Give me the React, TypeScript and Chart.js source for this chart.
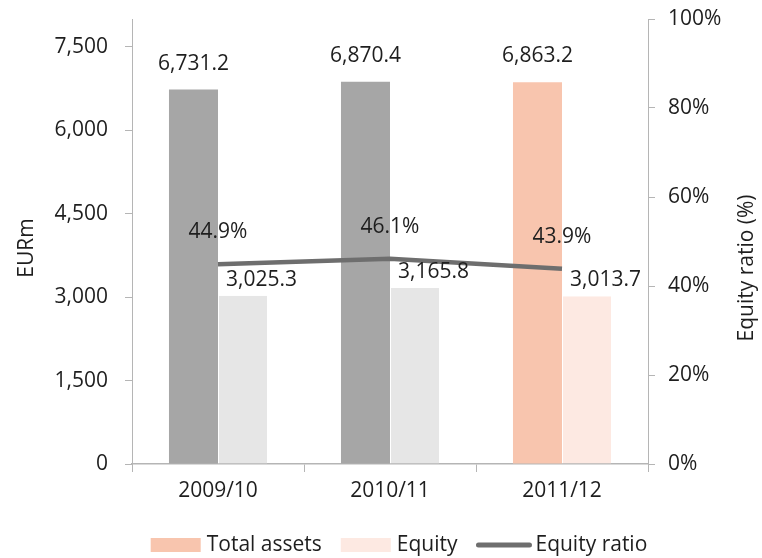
import React, { useEffect, useRef } from "react";
import { Chart, registerables } from "chart.js";

Chart.register(...registerables);

const categories = ["2009/10", "2010/11", "2011/12"];
const totalAssets = [6731.2, 6870.4, 6863.2];
const equity = [3025.3, 3165.8, 3013.7];
const equityRatio = [44.9, 46.1, 43.9];
const leftTicks = [0, 1500, 3000, 4500, 6000, 7500];
const rightTicks = [0, 20, 40, 60, 80, 100];
const seriesNames = ["Total assets", "Equity", "Equity ratio"];
const leftTitle = "EURm";
const rightTitle = "Equity ratio (%)";

const FONT = "'Open Sans', 'Noto Sans', sans-serif";
const FS = 21;
const TXT = "#1e1e1e";
const AX = "#b5b5b5";
const totalColors = ["#a6a6a6", "#a6a6a6", "#f8c5ae"];
const equityColors = ["#e6e6e6", "#e6e6e6", "#fde9e2"];
const LINE = "#6e6e6e";

const fmt1 = (v: number) =>
  v.toLocaleString("en-US", { minimumFractionDigits: 1, maximumFractionDigits: 1 });

const overlayPlugin = {
  id: "overlay",
  afterDatasetsDraw(chart: any) {
    const ctx = chart.ctx;
    ctx.save();
    ctx.font = `${FS}px ${FONT}`;
    ctx.fillStyle = TXT;
    ctx.textAlign = "center";
    ctx.textBaseline = "middle";
    const mTot = chart.getDatasetMeta(0);
    const mEq = chart.getDatasetMeta(1);
    const mLine = chart.getDatasetMeta(2);
    mTot.data.forEach((el: any, i: number) => {
      ctx.fillText(fmt1(totalAssets[i]), el.x, el.y - 26);
    });
    mEq.data.forEach((el: any, i: number) => {
      ctx.fillText(fmt1(equity[i]), el.x + 19, el.y - 16);
    });
    mLine.data.forEach((el: any, i: number) => {
      ctx.fillText(fmt1(equityRatio[i]) + "%", el.x, el.y - 32);
    });
    ctx.restore();
  },
  afterDraw(chart: any) {
    const ctx = chart.ctx;
    ctx.save();
    ctx.font = `${FS}px ${FONT}`;
    ctx.fillStyle = TXT;
    ctx.textAlign = "center";
    ctx.textBaseline = "middle";
    // axis titles
    ctx.save();
    ctx.translate(27, 248);
    ctx.rotate(-Math.PI / 2);
    ctx.fillText(leftTitle, 0, 0);
    ctx.restore();
    ctx.save();
    ctx.translate(747, 268);
    ctx.rotate(-Math.PI / 2);
    ctx.fillText(rightTitle, 0, 0);
    ctx.restore();

    // legend
    const y = 545;
    const boxW = 50;
    const lineW = 55;
    const gap = 6;
    const spacing = 19;
    const w0 = ctx.measureText(seriesNames[0]).width;
    const w1 = ctx.measureText(seriesNames[1]).width;
    const w2 = ctx.measureText(seriesNames[2]).width;
    const total = boxW + gap + w0 + spacing + boxW + gap + w1 + spacing + lineW + 4 + w2;
    let x = 399 - total / 2;
    ctx.textAlign = "left";
    ctx.fillStyle = totalColors[2];
    ctx.fillRect(x, y - 7, boxW, 14);
    x += boxW + gap;
    ctx.fillStyle = TXT;
    ctx.fillText(seriesNames[0], x, y);
    x += w0 + spacing;
    ctx.fillStyle = equityColors[2];
    ctx.fillRect(x, y - 7, boxW, 14);
    x += boxW + gap;
    ctx.fillStyle = TXT;
    ctx.fillText(seriesNames[1], x, y);
    x += w1 + spacing;
    ctx.strokeStyle = LINE;
    ctx.lineWidth = 5;
    ctx.lineCap = "round";
    ctx.beginPath();
    ctx.moveTo(x + 2, y);
    ctx.lineTo(x + lineW - 2, y);
    ctx.stroke();
    x += lineW + 4;
    ctx.fillText(seriesNames[2], x, y);
    ctx.restore();
  },
};

export default function App() {
  const ref = useRef<HTMLCanvasElement | null>(null);
  useEffect(() => {
    if (!ref.current) return;
    const font = { family: FONT, size: FS };
    const chart = new Chart(ref.current, {
      type: "bar",
      data: {
        labels: categories,
        datasets: [
          {
            type: "bar",
            label: seriesNames[0],
            data: totalAssets,
            backgroundColor: totalColors,
            yAxisID: "y",
            order: 2,
            categoryPercentage: 0.57,
            barPercentage: 1,
          },
          {
            type: "bar",
            label: seriesNames[1],
            data: equity,
            backgroundColor: equityColors,
            borderColor: "#ffffff",
            borderWidth: { left: 1, right: 0, top: 0, bottom: 0 },
            borderSkipped: false,
            yAxisID: "y",
            order: 2,
            categoryPercentage: 0.57,
            barPercentage: 1,
          },
          {
            type: "line",
            label: seriesNames[2],
            data: equityRatio,
            borderColor: LINE,
            borderWidth: 4.5,
            pointRadius: 0,
            tension: 0,
            yAxisID: "y1",
            order: 0,
          } as any,
        ],
      },
      options: {
        animation: false,
        responsive: false,
        maintainAspectRatio: false,
        layout: { padding: { top: 19, left: 0, right: 0, bottom: 0 } },
        plugins: {
          legend: { display: false },
          tooltip: { enabled: false },
        },
        scales: {
          x: {
            grid: {
              display: true,
              drawOnChartArea: false,
              drawTicks: true,
              tickLength: 8,
              color: AX,
              offset: true,
            },
            border: { color: AX, width: 1.5 },
            ticks: { font, color: TXT, padding: 6 },
            afterFit: (s: any) => {
              s.height = 558 - 464;
              s.paddingLeft = 0;
              s.paddingRight = 0;
            },
          },
          y: {
            position: "left",
            min: 0,
            max: 8000,
            afterBuildTicks: (s: any) => {
              s.ticks = leftTicks.map((v) => ({ value: v }));
            },
            ticks: {
              font,
              color: TXT,
              padding: 17,
              callback: (v: any) => Number(v).toLocaleString("en-US"),
            },
            grid: { drawOnChartArea: false, drawTicks: true, tickLength: 7, color: AX },
            border: { color: AX },
            afterFit: (s: any) => {
              s.width = 132;
              s.paddingTop = 0;
              s.paddingBottom = 0;
            },
          },
          y1: {
            position: "right",
            min: 0,
            max: 100,
            afterBuildTicks: (s: any) => {
              s.ticks = rightTicks.map((v) => ({ value: v }));
            },
            ticks: {
              font,
              color: TXT,
              padding: 13,
              callback: (v: any) => v + "%",
            },
            grid: { drawOnChartArea: false, drawTicks: true, tickLength: 7, color: AX },
            border: { color: AX },
            afterFit: (s: any) => {
              s.width = 762 - 648;
              s.paddingTop = 0;
              s.paddingBottom = 0;
            },
          },
        },
      } as any,
      plugins: [overlayPlugin],
    });
    return () => chart.destroy();
  }, []);
  return (
    <div style={{ position: "fixed", left: 0, top: 0, width: 762, height: 558, background: "#fff" }}>
      <canvas ref={ref} width={762} height={558} style={{ display: "block" }} />
    </div>
  );
}
